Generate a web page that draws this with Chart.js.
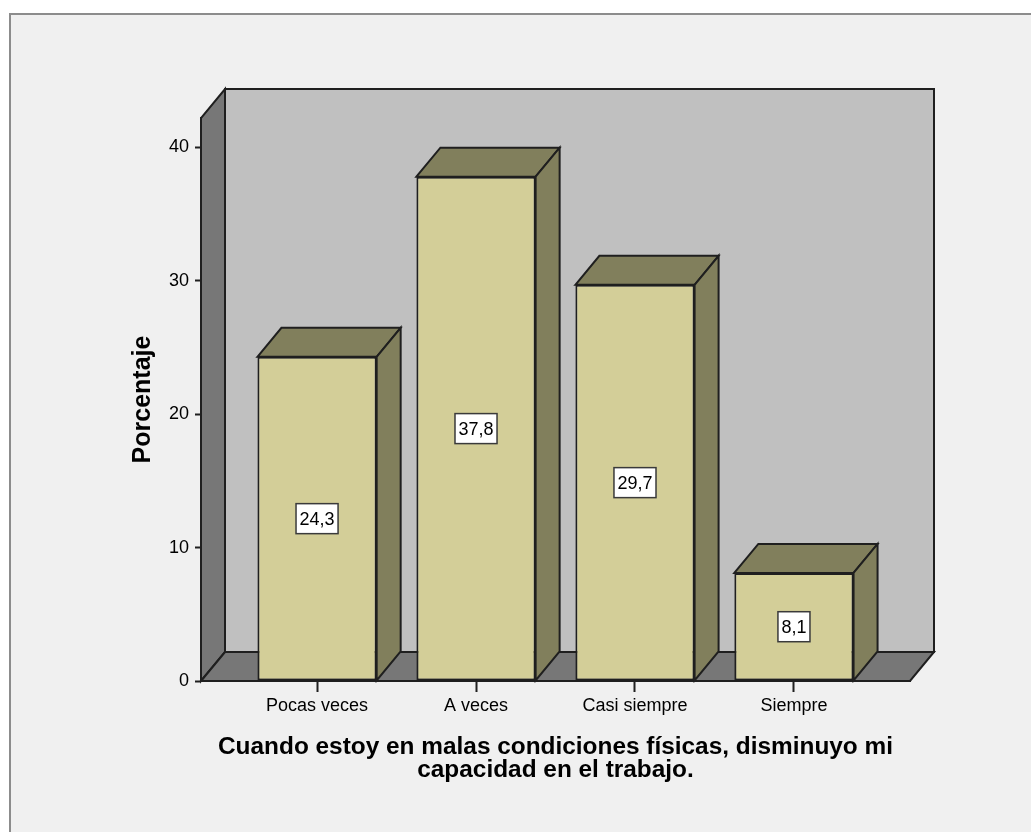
<!DOCTYPE html>
<html>
<head>
<meta charset="utf-8">
<script src="https://cdn.jsdelivr.net/npm/chart.js@4.4.1/dist/chart.umd.min.js"></script>
<style>
  html, body { margin: 0; padding: 0; background: #ffffff; }
  #wrap { width: 1031px; height: 832px; }
</style>
</head>
<body>
<div id="wrap"><canvas id="chart" width="1031" height="832"></canvas></div>
<script>
// Categories and percentages of the frequency chart
const categories = ['Pocas veces', 'A veces', 'Casi siempre', 'Siempre'];
const percentages = [24.3, 37.8, 29.7, 8.1];
const yTickValues = [0, 10, 20, 30, 40];
const yTitle = 'Porcentaje';
const xTitle = ['Cuando estoy en malas condiciones físicas, disminuyo mi', 'capacidad en el trabajo.'];

// Depth of the pseudo-3D extrusion (pixels right / up)
const DEPTH_X = 24;
const DEPTH_Y = -29;

const FONT = "'Liberation Sans', Arial, sans-serif";
const EDGE = '#1f1f1f';

function poly(ctx, pts, fill) {
  ctx.beginPath();
  ctx.moveTo(pts[0][0], pts[0][1]);
  for (let i = 1; i < pts.length; i++) ctx.lineTo(pts[i][0], pts[i][1]);
  ctx.closePath();
  ctx.fillStyle = fill;
  ctx.fill();
  ctx.stroke();
}

// Panel background, back wall, left wall and floor
const backdrop = {
  id: 'backdrop',
  beforeDraw(chart) {
    const { ctx, width, height } = chart;
    const yScale = chart.scales.y;
    const xScale = chart.scales.x;
    const left = xScale.left, right = xScale.right;
    const top = yScale.top, base = yScale.getPixelForValue(0);
    ctx.save();
    ctx.fillStyle = '#ffffff';
    ctx.fillRect(0, 0, width, height);
    ctx.fillStyle = '#f0f0f0';
    ctx.fillRect(9, 13, width - 9, height - 13);
    ctx.strokeStyle = '#8c8c8c';
    ctx.lineWidth = 2;
    ctx.beginPath();
    ctx.moveTo(10, height);
    ctx.lineTo(10, 14);
    ctx.lineTo(width, 14);
    ctx.stroke();

    ctx.strokeStyle = EDGE;
    ctx.lineWidth = 2;
    ctx.lineJoin = 'miter';
    // back wall
    poly(ctx, [[left + DEPTH_X, top + DEPTH_Y], [right + DEPTH_X, top + DEPTH_Y],
               [right + DEPTH_X, base + DEPTH_Y], [left + DEPTH_X, base + DEPTH_Y]], '#c0c0c0');
    // left wall
    poly(ctx, [[left, base], [left, top], [left + DEPTH_X, top + DEPTH_Y], [left + DEPTH_X, base + DEPTH_Y]], '#777777');
    // floor
    poly(ctx, [[left, base], [left + DEPTH_X, base + DEPTH_Y], [right + DEPTH_X, base + DEPTH_Y], [right, base]], '#777777');
    ctx.restore();
  }
};

// Top and side faces of each bar, plus the value boxes
const barDepth = {
  id: 'barDepth',
  afterDatasetsDraw(chart) {
    const { ctx } = chart;
    const meta = chart.getDatasetMeta(0);
    ctx.save();
    ctx.strokeStyle = EDGE;
    ctx.lineWidth = 2;
    ctx.lineJoin = 'miter';
    meta.data.forEach((bar) => {
      const { x, y, base, width } = bar.getProps(['x', 'y', 'base', 'width'], true);
      const l = x - width / 2, r = x + width / 2;
      poly(ctx, [[l, y], [l + DEPTH_X, y + DEPTH_Y], [r + DEPTH_X, y + DEPTH_Y], [r, y]], '#817f5c');
      poly(ctx, [[r, y], [r + DEPTH_X, y + DEPTH_Y], [r + DEPTH_X, base + DEPTH_Y], [r, base]], '#817f5c');
    });
    ctx.font = '18px ' + FONT;
    ctx.textAlign = 'center';
    ctx.textBaseline = 'middle';
    meta.data.forEach((bar, i) => {
      const { x, y, base } = bar.getProps(['x', 'y', 'base'], true);
      const text = percentages[i].toFixed(1).replace('.', ',');
      const cy = (y + base) / 2;
      const w = ctx.measureText(text).width + 7;
      const h = 30;
      ctx.fillStyle = '#ffffff';
      ctx.strokeStyle = '#3a3a3a';
      ctx.lineWidth = 1.5;
      ctx.fillRect(x - w / 2, cy - h / 2, w, h);
      ctx.strokeRect(x - w / 2, cy - h / 2, w, h);
      ctx.fillStyle = '#000000';
      ctx.fillText(text, x, cy + 1);
    });
    ctx.restore();
  }
};

new Chart(document.getElementById('chart'), {
  type: 'bar',
  data: {
    datasets: [{
      data: percentages.map((v, i) => ({ x: i, y: v })),
      backgroundColor: '#d3ce98',
      borderColor: EDGE,
      borderWidth: 2,
      borderSkipped: false,
      categoryPercentage: 1,
      barPercentage: 0.75
    }]
  },
  options: {
    responsive: false,
    animation: false,
    events: [],
    layout: { padding: { left: 0, top: 118, right: 121, bottom: 0 } },
    plugins: { legend: { display: false }, tooltip: { enabled: false } },
    scales: {
      x: {
        type: 'linear',
        offset: false,
        min: -0.73,
        max: 3.73,
        afterBuildTicks: (s) => { s.ticks = categories.map((c, i) => ({ value: i })); },
        afterFit: (s) => { s.height = 151; },
        ticks: {
          autoSkip: false,
          maxRotation: 0,
          padding: 3,
          color: '#000000',
          font: { family: FONT, size: 18 },
          callback: (v) => categories[v]
        },
        grid: { offset: false, drawOnChartArea: false, drawTicks: true, tickLength: 11, tickWidth: 2, tickColor: EDGE },
        border: { display: true, color: EDGE, width: 2 },
        title: {
          display: true,
          text: xTitle,
          color: '#000000',
          font: { family: FONT, size: 24.4, weight: 'bold', lineHeight: 0.95 },
          padding: { top: 0, bottom: 50 }
        }
      },
      y: {
        min: 0,
        max: 42.2,
        afterBuildTicks: (s) => { s.ticks = yTickValues.map((v) => ({ value: v })); },
        afterFit: (s) => { s.width = 201; },
        ticks: {
          padding: 6,
          color: '#000000',
          font: { family: FONT, size: 18 }
        },
        grid: { drawOnChartArea: false, drawTicks: true, tickLength: 6, tickWidth: 2, tickColor: EDGE },
        border: { display: true, color: EDGE, width: 2 },
        title: {
          display: true,
          text: yTitle,
          color: '#000000',
          font: { family: FONT, size: 25, weight: 'bold', lineHeight: 1.2 },
          padding: { top: 128, bottom: 0 }
        }
      }
    }
  },
  plugins: [backdrop, barDepth]
});
</script>
</body>
</html>
